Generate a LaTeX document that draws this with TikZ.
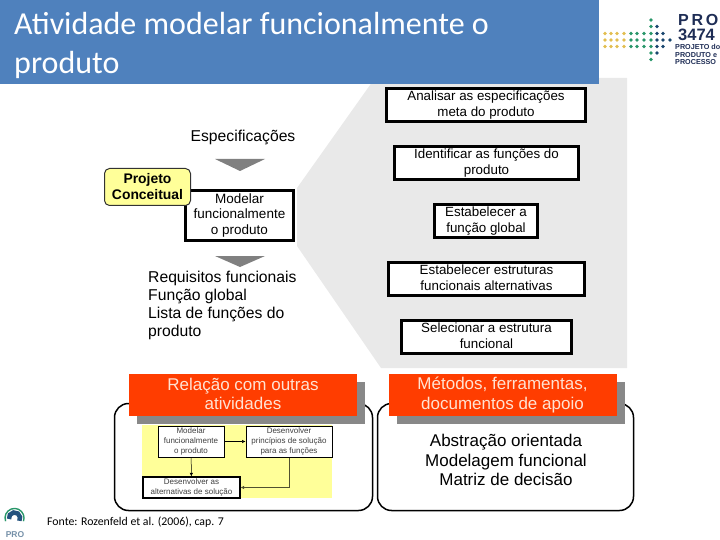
\documentclass[tikz,border=0pt]{standalone}
\usepackage{fontspec}
\setmainfont{Liberation Sans}
\newfontfamily\titlefont{Carlito}
\usetikzlibrary{shadows, arrows.meta}
\definecolor{BarraAzul}{RGB}{79,129,189}
\definecolor{FundoCinza}{RGB}{233,233,233}
\definecolor{SetaCinza}{RGB}{128,128,128}
\definecolor{SombraCinza}{RGB}{136,136,136}
\definecolor{CabVermelho}{RGB}{255,61,0}
\definecolor{CabTexto}{RGB}{255,226,210}
\definecolor{Amarelo}{RGB}{255,255,153}
\definecolor{LogoOuro}{RGB}{226,190,80}
\definecolor{LogoVerde}{RGB}{40,150,105}
\definecolor{LogoAzul}{RGB}{25,70,110}
\definecolor{LogoTexto}{RGB}{30,45,85}
\tikzset{%
  titulo/.style ={anchor=north west, align=left, text=white, inner sep=0pt,
                  font=\titlefont\fontsize{32}{39}\selectfont},
  linhas/.style ={execute at begin node={\rule{0pt}{#1}},
                  execute at end node={\rule[-3pt]{0pt}{3pt}}},
  passo/.style  ={rectangle, draw=black, fill=white, line width=3pt, align=center,
                  inner sep=0pt, minimum height=33pt, linhas=15pt,
                  font=\fontsize{13.35}{16}\selectfont},
  centro/.style ={passo, minimum width=108pt, minimum height=50pt, linhas=14.4pt,
                  font=\fontsize{13.5}{15.7}\selectfont},
  fase/.style   ={rectangle, rounded corners=5pt, draw=black!80, fill=Amarelo,
                  line width=1pt, align=center, inner sep=0pt, minimum width=86pt,
                  minimum height=37pt, font=\fontsize{13.9}{16}\selectfont\bfseries},
  rotulo/.style ={align=center, inner sep=0pt, font=\fontsize{15.7}{18}\selectfont},
  lista/.style  ={anchor=north west, align=left, inner sep=0pt,
                  font=\fontsize{15.7}{18}\selectfont},
  cab/.style    ={rectangle, fill=CabVermelho, text=CabTexto, align=center, inner sep=0pt,
                  minimum width=228pt, minimum height=42pt, linhas=14pt,
                  font=\fontsize{17}{19.2}\selectfont,
                  general shadow={fill=SombraCinza, shadow xshift=8pt, shadow yshift=-8pt}},
  quadro/.style ={rectangle, rounded corners=14pt, draw=black, fill=white, line width=1.5pt,
                  minimum height=107pt, inner sep=0pt},
  metodo/.style ={align=center, inner sep=0pt, font=\fontsize{17}{19.5}\selectfont},
  mini/.style   ={rectangle, draw=black, fill=white, line width=1pt, align=center,
                  inner sep=0pt, text=black!75, font=\fontsize{8}{9.7}\selectfont},
  fl/.style     ={-{Latex[length=3.5pt,width=3.5pt]}, line width=0.5pt, draw=black},
  flc/.style    ={fl, draw=black!55!Amarelo!70!black},
  sigla/.style  ={anchor=north west, inner sep=0pt, text=LogoTexto, font=\bfseries}
}
\begin{document}
\begin{tikzpicture}[x=1pt,y=-1pt]
  \useasboundingbox (0,0) rectangle (720,540);
  % fundo
  \fill[FundoCinza] (297,188)--(375,78)--(627,78)--(627,368)--(381,368)--(297,246)--cycle;
  \fill[BarraAzul] (0,0) rectangle (599,84);
  \node[titulo] (tit) at (14,12) {Atividade modelar funcionalmente o\\produto};
  % passos da atividade
  \node[passo, minimum width=199pt] (p1) at (486,105) {Analisar as especificações\\meta do produto};
  \node[passo, minimum width=184pt] (p2) at (486.5,163) {Identificar as funções do\\produto};
  \node[passo, minimum width=103pt] (p3) at (486,221) {Estabelecer a\\função global};
  \node[passo, minimum width=196pt] (p4) at (486.5,279) {Estabelecer estruturas\\funcionais alternativas};
  \node[passo, minimum width=170pt] (p5) at (486.5,337) {Selecionar a estrutura\\funcional};
  % coluna esquerda
  \node[rotulo] (esp) at (243,137) {Especificações};
  \fill[SetaCinza] (215,159)--(265,159)--(240,171)--cycle;
  \node[centro] (mod) at (239.5,215.5) {Modelar\\funcionalmente\\o produto};
  \node[fase] (fase) at (147.5,187) {Projeto\\Conceitual};
  \fill[SetaCinza] (215,256)--(265,256)--(240,267)--cycle;
  \node[lista] (req) at (148,270.5) {Requisitos funcionais\\Função global\\Lista de funções do\\produto};
  % quadros de baixo
  \node[quadro, minimum width=258pt] (qe) at (243.5,457) {};
  \node[quadro, minimum width=256pt] (qd) at (505.5,457) {};
  \node[cab] (ce) at (243,395) {Relação com outras\\atividades};
  \node[cab] (cd) at (502.5,395) {Métodos, ferramentas,\\documentos de apoio};
  \fill[Amarelo] (142,425) rectangle (332,498);
  \node[mini, minimum width=66pt, minimum height=31pt] (m1) at (191,441.5) {Modelar\\funcionalmente\\o produto};
  \node[mini, minimum width=86pt, minimum height=31pt] (m2) at (289,441.5) {Desenvolver\\princípios de solução\\para as funções};
  \node[mini, line width=1.3pt, minimum width=97pt, minimum height=21pt] (m3) at (191.5,487.5) {Desenvolver as\\alternativas de solução};
  \draw[fl] (m1)--(m3);
  \draw[fl] (m1)--(m2);
  \draw[flc] (m2.south)|-(m3.east);
  \node[metodo] (met) at (506,460) {Abstração orientada\\Modelagem funcional\\Matriz de decisão};
  \node[anchor=west, inner sep=0pt, font=\titlefont\fontsize{11.8}{13}\selectfont] (fonte) at (47,522) {Fonte: Rozenfeld et al. (2006), cap. 7};
  % logo 3474
  \foreach \x/\c in {605/LogoOuro,611/LogoOuro,617/LogoOuro,624/LogoOuro,631/LogoVerde,637/LogoVerde,644/LogoVerde,651/LogoVerde,657/LogoAzul,663/LogoAzul}
    \foreach \y in {33.5,40,46.5}
      \fill[\c] (\x,\y) circle (1.8pt);
  \foreach \y in {20,26.5,53,59.5}
    \fill[LogoVerde] (651,\y) circle (1.8pt);
  \foreach \y in {26.5,53}
    \fill[LogoAzul] (657,\y) circle (1.8pt);
  \fill[LogoAzul] (670,40) circle (1.8pt);
  \node[sigla, font=\bfseries\fontsize{16}{16}\selectfont] (lg1) at (678,14.5) {P\,R\,O};
  \node[sigla, font=\bfseries\fontsize{16.5}{16.5}\selectfont] (lg2) at (678,29) {3474};
  \node[sigla, align=left, font=\bfseries\fontsize{7.2}{7.4}\selectfont] (lg3) at (675,44.5) {PROJETO do\\PRODUTO e\\PROCESSO};
  % logo PRO
  \draw[LogoVerde, line width=1.4pt] (5.6,521.2) arc (160:380:9.5);
  \draw[LogoAzul!80!BarraAzul, line width=4.5pt] (9,519) arc (170:390:5.6);
  \node[inner sep=0pt, text=LogoAzul!60!white, font=\rmfamily\bfseries\fontsize{8.5}{8.5}\selectfont] (lgp) at (15,534.5) {PRO};
\end{tikzpicture}
\end{document}
